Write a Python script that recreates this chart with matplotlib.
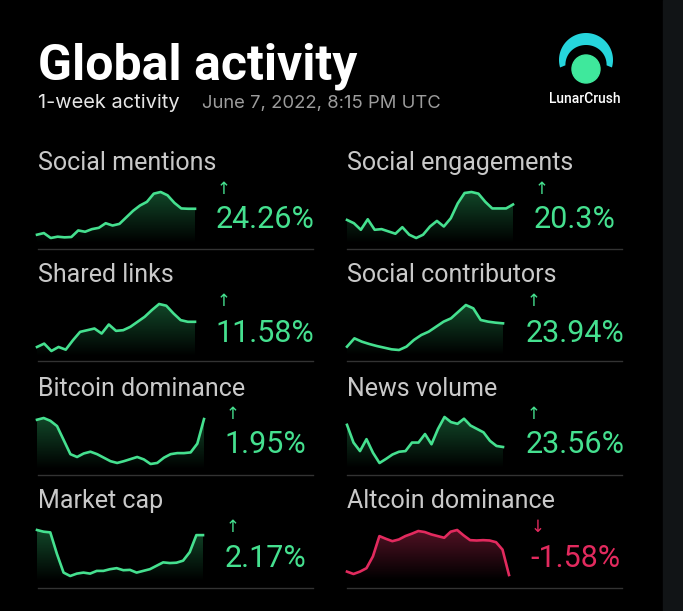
import numpy as np
import matplotlib.pyplot as plt
from matplotlib.colors import LinearSegmentedColormap
from matplotlib.patches import PathPatch, Polygon, Circle, Rectangle

W, H = 683, 611

# sparkline data (arbitrary units)
social_mentions = [15, 20, 5, 9, 7, 8, 28, 24, 32, 36, 50, 43, 48, 68, 88, 104,
                   115, 140, 145, 135, 112, 95, 94, 94]
shared_links = [20, 30, 8, 20, 12, 40, 65, 70, 75, 60, 87, 68, 70, 80, 95, 110,
                130, 148, 143, 120, 100, 95, 95]
social_engagements = [60, 50, 30, 62, 30, 32, 25, 18, 38, 15, 5, 15, 40, 57, 40,
                      65, 110, 142, 145, 140, 115, 95, 95, 95, 107]
social_contributors = [20, 45, 35, 28, 22, 17, 12, 10, 20, 40, 55, 65, 80, 95,
                       105, 125, 145, 135, 100, 95, 92, 90]
bitcoin_dominance = [138, 143, 135, 120, 80, 40, 32, 42, 47, 40, 30, 20, 15, 20,
                     26, 32, 25, 12, 15, 30, 40, 43, 43, 45, 70, 140]
news_volume = [122, 70, 45, 80, 40, 10, 22, 35, 43, 45, 70, 70, 95, 65, 110, 145,
               130, 125, 140, 120, 110, 100, 75, 60, 57]
market_cap = [140, 135, 133, 70, 15, 5, 12, 15, 12, 20, 20, 25, 28, 22, 23, 15,
              20, 25, 35, 45, 43, 44, 50, 75, 125, 125]
altcoin_dominance = [25, 18, 25, 35, 70, 130, 122, 115, 120, 130, 137, 145, 142,
                     135, 130, 125, 143, 148, 132, 118, 117, 118, 117, 112, 90, 15]

labels = ["Social mentions", "Social engagements", "Shared links",
          "Social contributors", "Bitcoin dominance", "News volume",
          "Market cap", "Altcoin dominance"]
changes = ["24.26%", "20.3%", "11.58%", "23.94%", "1.95%", "23.56%",
           "2.17%", "-1.58%"]
series = [social_mentions, social_engagements, shared_links, social_contributors,
          bitcoin_dominance, news_volume, market_cap, altcoin_dominance]

GREEN = "#45e08f"
RED = "#e22a5e"
BG = "#000000"

plt.rcParams["font.family"] = ["Roboto", "DejaVu Sans"]

fig = plt.figure(figsize=(W / 100, H / 100), dpi=100, facecolor=BG)


def fx(x):
    return x / W


def fy(y):
    return 1 - y / H


# grey strip on the right edge
fig.patches.append(Rectangle((fx(663), 0), 1 - fx(663), 1, transform=fig.transFigure,
                             color="#111416", zorder=0))

# header
fig.text(fx(38), fy(80), "Global activity", color="white", fontsize=36,
         fontweight="bold", va="baseline", ha="left")
fig.text(fx(38), fy(108), "1-week activity", color="#e6e6e6", fontsize=14.4,
         family=["Inter", "DejaVu Sans"], va="baseline", ha="left")
fig.text(fx(202), fy(108), "June 7, 2022, 8:15 PM UTC", color="#9c9c9c",
         fontsize=13.3, family=["Inter", "DejaVu Sans"], va="baseline", ha="left")

# logo: crescent over a circle
lx0, lx1, ly0, ly1 = 548, 624, 28, 92
lax = fig.add_axes([fx(lx0), fy(ly1), fx(lx1 - lx0), (ly1 - ly0) / H])
lax.axis("off")
lax.set_xlim(lx0, lx1)
lax.set_ylim(ly1, ly0)
th = np.linspace(np.radians(-16), np.radians(196), 140)
cx, cy, ro = 586, 60, 27
thick = 7 + 5 * np.sin(th)
thick[0] = thick[-1] = 0.5
outer = np.column_stack([cx + ro * np.cos(th), cy - ro * np.sin(th)])
inner = np.column_stack([cx + (ro - thick) * np.cos(th), cy - (ro - thick) * np.sin(th)])
lax.add_patch(Polygon(np.vstack([outer, inner[::-1]]), closed=True,
                      facecolor="#26d5dc", edgecolor="none"))
lax.add_patch(Circle((586, 69), 14, color="#3fe89c"))
fig.text(fx(585), fy(103), "LunarCrush", color="white", fontsize=10,
         fontweight="medium", ha="center", va="baseline")

# panel layout
col_x = [38, 347]
spark_x = [(37, 195), (347, 513), (37, 195), (347, 503),
           (37, 204), (347, 503), (37, 203), (347, 509)]
spark_y = [(192, 238), (192, 238), (304, 351), (305, 350),
           (418, 464), (417, 463), (530, 576), (530, 575)]
label_base = [170, 282, 396, 508]
pct_base = [228, 342, 453, 567]
arrow_y = [189, 301, 414, 527]
pct_center = [265, 575]
sep_y = [249, 361, 475, 588]
sep_x = [(38, 313), (347, 622)]

green_cmap = LinearSegmentedColormap.from_list("g", ["#000000", "#114628"])
red_cmap = LinearSegmentedColormap.from_list("r", ["#000000", "#521224"])

fig.canvas.draw()
renderer = fig.canvas.get_renderer()

for i, (lab, chg, vals) in enumerate(zip(labels, changes, series)):
    row, col = divmod(i, 2)
    neg = chg.startswith("-")
    color = RED if neg else GREEN

    fig.text(fx(col_x[col]), fy(label_base[row]), lab, color="#c9c9c9",
             fontsize=18, va="baseline", ha="left")

    pct = fig.text(fx(pct_center[col]), fy(pct_base[row]), chg, color=color,
                   fontsize=22, va="baseline", ha="center")
    bb = pct.get_window_extent(renderer)
    fig.text(bb.x0 / W + fx(8), fy(arrow_y[row]), "↓" if neg else "↑",
             color=color, fontsize=12, family="DejaVu Sans", ha="center",
             va="center")

    sx0, sx1 = spark_x[i]
    top, bot = spark_y[i]
    extra_px = 5
    ax = fig.add_axes([fx(sx0), fy(bot + extra_px), fx(sx1 - sx0),
                       (bot + extra_px - top) / H])
    v = np.array(vals, dtype=float)
    x = np.arange(len(v))
    r = v.max() - v.min()
    ylo = v.min() - r * extra_px / (bot - top)
    ax.axis("off")
    poly = ax.fill_between(x, v, ylo, facecolor="none", edgecolor="none")
    clip = PathPatch(poly.get_paths()[0], facecolor="none", edgecolor="none",
                     transform=ax.transData)
    ax.add_patch(clip)
    gim = ax.imshow(np.linspace(1, 0, 128).reshape(-1, 1),
                    extent=[0, len(v) - 1, ylo, v.max()], aspect="auto",
                    cmap=red_cmap if neg else green_cmap, origin="upper", zorder=1)
    gim.set_clip_path(clip)
    ax.set_xlim(0, len(v) - 1)
    ax.set_ylim(ylo, v.max())
    ax.plot(x, v, color=color, lw=1.9, solid_joinstyle="round", zorder=3,
            clip_on=False)

    fig.lines.append(plt.Line2D([fx(sep_x[col][0]), fx(sep_x[col][1])],
                                [fy(sep_y[row]), fy(sep_y[row])],
                                transform=fig.transFigure, color="#333333", lw=1))

fig.savefig("out.png", dpi=100, facecolor=BG)
